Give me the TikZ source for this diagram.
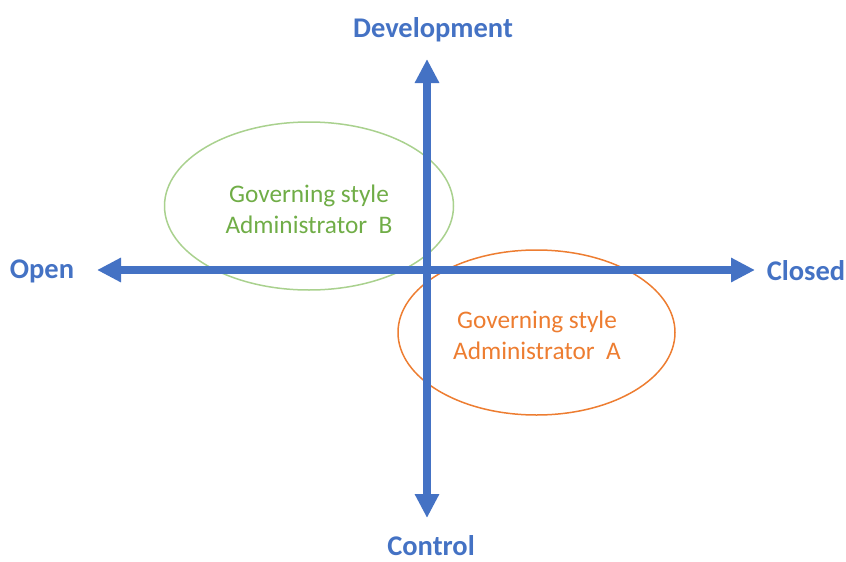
\documentclass[tikz,border=0pt]{standalone}
\usepackage{fontspec}
\setmainfont{Carlito}
\usetikzlibrary{arrows.meta,shapes.geometric}
\definecolor{axisblue}{HTML}{4472C4}
\definecolor{labgreen}{HTML}{70AD47}
\definecolor{ellgreen}{HTML}{A9D18E}
\definecolor{laborange}{HTML}{ED7D31}
\tikzset{
  axisline/.style={draw=axisblue, line width=8pt, {Triangle[width=23pt,length=24pt]}-{Triangle[width=23pt,length=24pt]}},
  axislabel/.style={text=axisblue, font=\bfseries\fontsize{28.5}{33}\selectfont, inner sep=0pt},
  zone/.style={ellipse, line width=1.5pt, inner sep=0pt},
  zonetext/.style={font=\fontsize{25.3}{31}\selectfont, align=center, inner sep=0pt}
}
\begin{document}
\begin{tikzpicture}[x=1pt,y=-1pt]
\useasboundingbox (0,0) rectangle (846,562);
\coordinate (left) at (97,270);
\coordinate (right) at (755,270);
\coordinate (top) at (427,59);
\coordinate (bottom) at (427,518);
\node[zone, draw=ellgreen, minimum width=289pt, minimum height=168pt] (ellB) at (309,206) {};
\node[zone, draw=laborange, minimum width=277pt, minimum height=165pt] (ellA) at (536.5,332.5) {};
\draw[axisline] (left) -- (right);
\draw[axisline] (top) -- (bottom);
\node[axislabel] (dev) at (433,30) {Development};
\node[axislabel, anchor=base, text depth=0pt] (ctl) at (431,555.5) {Control};
\node[axislabel] (open) at (42,271) {Open};
\node[axislabel] (closed) at (806,271) {Closed};
\node[zonetext, text=labgreen] (txtB) at (309,209) {Governing style\\Administrator\ \ B};
\node[zonetext, text=laborange] (txtA) at (537,335) {Governing style\\Administrator\ \ A};
\end{tikzpicture}
\end{document}
